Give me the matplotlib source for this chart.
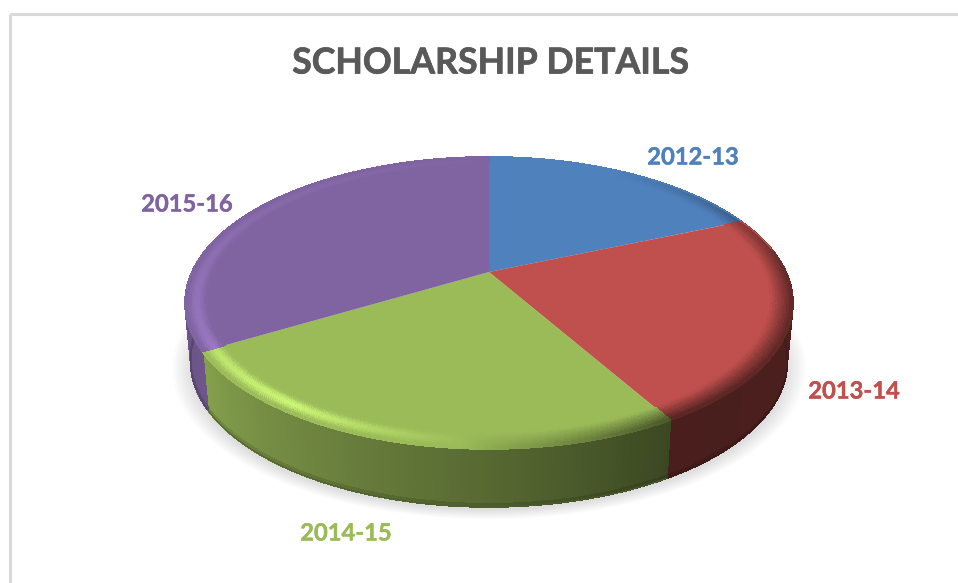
import numpy as np
import matplotlib
matplotlib.use('Agg')
import matplotlib.pyplot as plt
import matplotlib.patheffects as pe
from matplotlib.collections import PolyCollection
from matplotlib.colors import to_rgb

title = 'SCHOLARSHIP DETAILS'
years = ['2012-13', '2013-14', '2014-15', '2015-16']
shares = [18.6, 23.1, 24.8, 33.5]
colors = ['#4f81bd', '#c0504d', '#9bbb59', '#8064a2']
label_xy = [(693, 157), (854, 391), (346, 533), (187, 204)]

# pie centre and perspective, in pixels of the picture
cx, cy = 489, 272
tilt = 0.212
a_y = 139.4
b_x = 297
depth = 58
shrink = 0.982
foot = 3


def project(r, deg):
    th = np.radians(deg)
    u = r * np.sin(th)
    v = r * np.cos(th)
    w = 1 + tilt * v
    return cx + b_x * u / w, cy - a_y * v / w


def rim_shade(deg):
    return np.interp(deg, [90, 150, 180, 240, 270], [0.39, 0.38, 0.56, 0.86, 0.82])


def bevel_light(deg):
    return np.interp(deg, [30, 67, 90, 150, 180, 215, 250, 300, 360],
                     [0, -0.5, -0.8, -0.9, -0.15, 1, 0.5, 0.2, 0])


def shade(base, f):
    return tuple(np.clip(np.array(base) * f, 0, 1))


fig = plt.figure(figsize=(9.58, 5.83), dpi=100)
ax = fig.add_axes([0, 0, 1, 1])

# chart frame, only top and left show in the crop
ax.plot([10, 958], [14, 14], color='#d9d9d9', lw=2.2, solid_capstyle='butt')
ax.plot([10, 10], [14, 583], color='#d9d9d9', lw=2.2, solid_capstyle='butt')

# soft shadow under the pie
gx, gy = np.meshgrid(np.arange(958) + 0.5, np.arange(583) + 0.5)
rho = np.sqrt(((gx - 489) / 306) ** 2 + ((gy - 368) / 146) ** 2)
shadow = np.zeros((583, 958, 4))
shadow[..., 3] = 0.13 * np.clip((1.04 - rho) / 0.07, 0, 1)
ax.imshow(shadow, extent=(0, 958, 583, 0), aspect='auto', zorder=1)

ax.set_xlim(0, 958)
ax.set_ylim(583, 0)
ax.axis('off')

edges = np.concatenate([[0], np.cumsum(shares)]) / sum(shares) * 360

rim_polys, rim_cols = [], []
top_polys, top_cols = [], []
bev_polys, bev_cols = [], []
levels = np.linspace(0.93, 1.0, 9)

for i in range(len(years)):
    base = to_rgb(colors[i])
    n = max(int((edges[i + 1] - edges[i]) / 0.5), 2)
    angs = np.linspace(edges[i], edges[i + 1], n + 1)

    # side wall, only the part facing the viewer
    for a0, a1 in zip(angs[:-1], angs[1:]):
        mid = (a0 + a1) / 2
        if 80 < mid < 280:
            x0, y0 = project(1, a0)
            x1, y1 = project(1, a1)
            xb0 = cx + (x0 - cx) * shrink
            xb1 = cx + (x1 - cx) * shrink
            rim_polys.append([(x0, y0), (x1, y1), (xb1, y1 + depth - foot), (xb0, y0 + depth - foot)])
            rim_cols.append(shade(base, rim_shade(mid)))
            rim_polys.append([(xb0, y0 + depth - foot), (xb1, y1 + depth - foot), (xb1, y1 + depth), (xb0, y0 + depth)])
            rim_cols.append(shade(base, rim_shade(mid) * 0.88))

    # flat top of the slice
    xs, ys = project(levels[0], angs)
    top_polys.append([(cx, cy)] + list(zip(xs, ys)))
    top_cols.append(base)

    # rounded edge of the slice
    for a0, a1 in zip(angs[:-1], angs[1:]):
        mid = (a0 + a1) / 2
        lt = bevel_light(mid)
        for j in range(len(levels) - 1):
            s = (j + 0.5) / (len(levels) - 1)
            xa, ya = project(levels[j], np.array([a0, a1]))
            xc, yc = project(levels[j + 1], np.array([a1, a0]))
            bev_polys.append(list(zip(np.r_[xa, xc], np.r_[ya, yc])))
            if lt > 0:
                col = np.array(base) * (1 + 0.32 * lt * np.sin(np.pi * s) ** 2)
            else:
                col = np.array(base) * (1 + lt * s * 0.62)
            bev_cols.append(tuple(np.clip(col, 0, 1)))

    # smooth outline over the aliased strips
    full = np.linspace(edges[i], edges[i + 1], 200)
    ox, oy = project(1, full)
    front = (full > 80) & (full < 280)
    ax.plot(ox[~front], oy[~front], color=base, lw=0.9, zorder=5)
    if front.any():
        bx = cx + (ox[front] - cx) * shrink
        by = oy[front] + depth
        ax.plot(bx, by, color=shade(base, rim_shade(full[front].mean()) * 0.8), lw=0.7, zorder=2.5)

ax.add_collection(PolyCollection(rim_polys, facecolors=rim_cols, edgecolors=rim_cols,
                                 linewidths=0.6, antialiaseds=False, zorder=2))
ax.add_collection(PolyCollection(top_polys, facecolors=top_cols, edgecolors='none', zorder=3))
ax.add_collection(PolyCollection(bev_polys, facecolors=bev_cols, edgecolors=bev_cols,
                                 linewidths=0.6, antialiaseds=False, zorder=4))

heavy = [pe.withStroke(linewidth=0.5, foreground='#595959')]
ax.text(490, 63, title, ha='center', va='center', fontsize=25.7, fontweight='bold',
        family='Lato', color='#595959', zorder=6, path_effects=heavy)
for i in range(len(years)):
    ax.text(label_xy[i][0], label_xy[i][1], years[i], ha='center', va='center', fontsize=17.1,
            fontweight='bold', family='Lato', color=colors[i], zorder=6,
            path_effects=[pe.withStroke(linewidth=0.3, foreground=colors[i])])

fig.savefig('out.png', dpi=100)
